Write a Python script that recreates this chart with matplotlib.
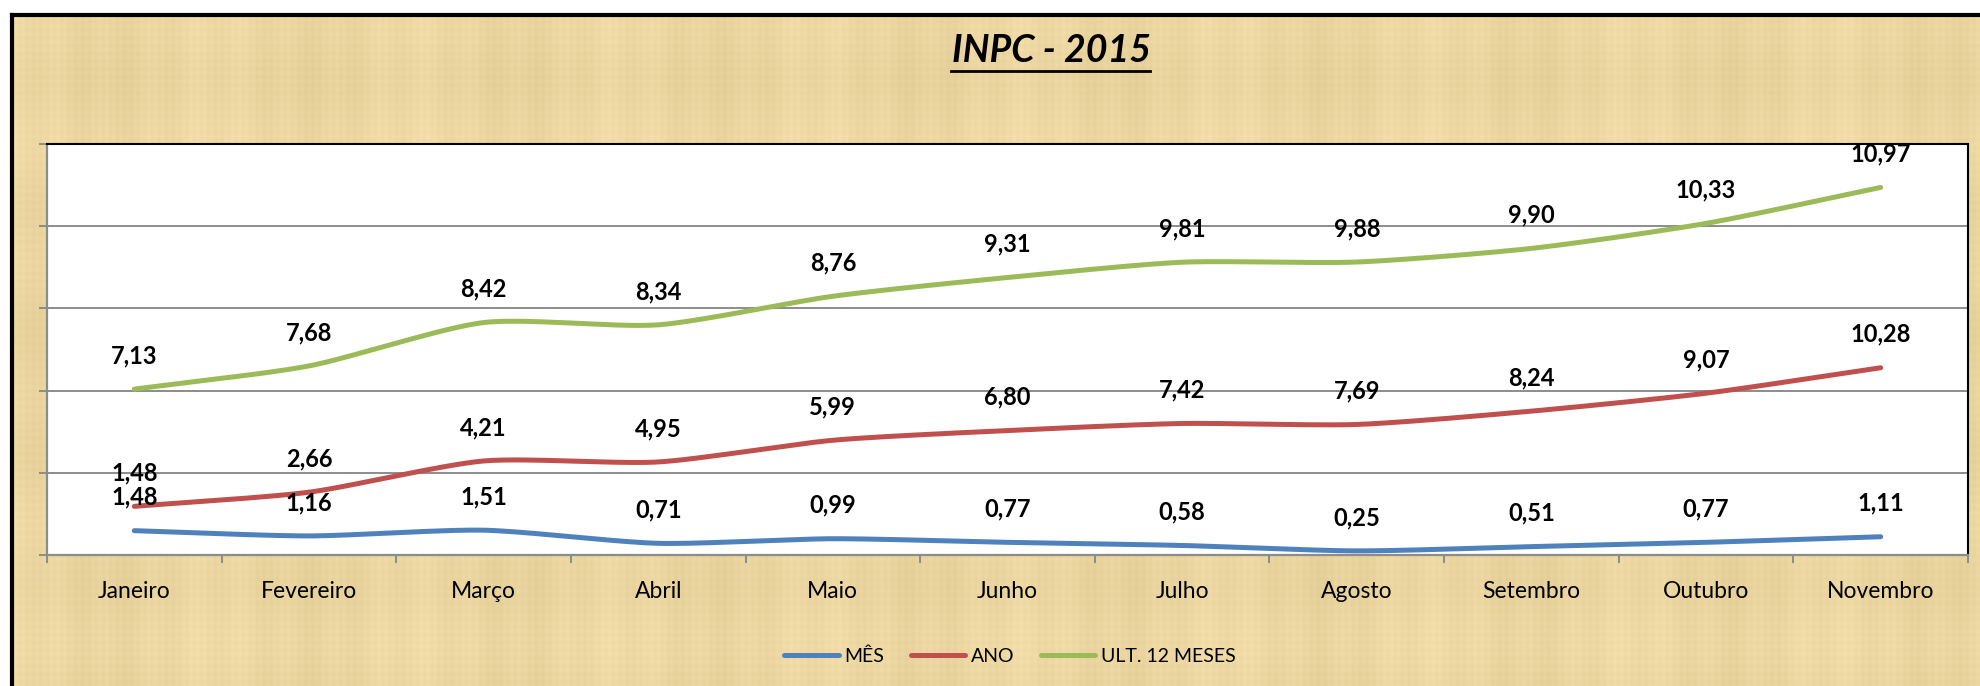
import matplotlib
matplotlib.use("Agg")
import matplotlib.pyplot as plt
import numpy as np
from matplotlib.lines import Line2D
from matplotlib.patches import Rectangle

plt.rcParams['font.family'] = ['Lato', 'DejaVu Sans']

#   Data
#===============================================
months = ["Janeiro", "Fevereiro", "Março", "Abril", "Maio", "Junho",
          "Julho", "Agosto", "Setembro", "Outubro", "Novembro"]
mes = [1.48, 1.16, 1.51, 0.71, 0.99, 0.77, 0.58, 0.25, 0.51, 0.77, 1.11]
ano = [1.48, 2.66, 4.21, 4.95, 5.99, 6.80, 7.42, 7.69, 8.24, 9.07, 10.28]
ult12 = [7.13, 7.68, 8.42, 8.34, 8.76, 9.31, 9.81, 9.88, 9.90, 10.33, 10.97]
series_names = ["MÊS", "ANO", "ULT. 12 MESES"]
colors = ["#4F81BD", "#C0504D", "#9BBB59"]


def smooth(x, y, n=30, k=0.7):
    # cardinal spline through the points, like excel's smoothed line
    x = np.asarray(x, float)
    y = np.asarray(y, float)
    px = np.concatenate([[2*x[0]-x[1]], x, [2*x[-1]-x[-2]]])
    py = np.concatenate([[2*y[0]-y[1]], y, [2*y[-1]-y[-2]]])
    xs, ys = [], []
    t = np.linspace(0, 1, n)
    h00 = 2*t**3 - 3*t**2 + 1
    h10 = t**3 - 2*t**2 + t
    h01 = -2*t**3 + 3*t**2
    h11 = t**3 - t**2
    for i in range(1, len(px)-2):
        for P, out in ((px, xs), (py, ys)):
            m1 = k*0.5*(P[i+1]-P[i-1])
            m2 = k*0.5*(P[i+2]-P[i])
            out.extend(h00*P[i] + h10*m1 + h01*P[i+1] + h11*m2)
    return np.array(xs), np.array(ys)


W, H = 1981, 686
fig = plt.figure(figsize=(W/100, H/100), dpi=100)
fig.patch.set_facecolor("white")

#   Parchment background
#===============================================
bg = fig.add_axes([0, 0, 1, 1], zorder=0)
yy, xx = np.mgrid[0:H, 0:W]
tex = (np.sin(xx*0.9)*0.25 + np.sin(xx*0.137)*0.35 + np.sin(xx*0.031+1.3)*0.4
       + np.sin(yy*0.8)*0.2 + np.sin(yy*0.05+0.7)*0.35 + np.sin(yy*0.013)*0.3)
base = np.array([234, 213, 160]) / 255.0
img = np.clip(base[None, None, :] + tex[..., None]*np.array([0.025, 0.025, 0.03]), 0, 1)
bg.imshow(img, extent=[0, 1, 0, 1], aspect="auto")
bg.set_xlim(0, 1)
bg.set_ylim(0, 1)
bg.add_patch(Rectangle((0, 1-15/H), 1, 15/H, color="white", zorder=2))
bg.add_patch(Rectangle((0, 0), 12/W, 1, color="white", zorder=2))
bg.plot([12/W, 12/W], [0, 1-15/H], color="black", lw=3, zorder=3, solid_capstyle="projecting")
bg.plot([12/W, 1], [1-15/H, 1-15/H], color="black", lw=3, zorder=3, solid_capstyle="projecting")
bg.axis("off")

#   Main chart (stacked lines)
#===============================================
ax = fig.add_axes([47/W, 1-555/H, (1968-47)/W, (555-144)/H], zorder=1)
ax.set_facecolor("white")
x = np.arange(len(months))
stack = np.cumsum([mes, ano, ult12], axis=0)
raw = [mes, ano, ult12]

for k in range(3):
    sx, sy = smooth(x, stack[k])
    ax.plot(sx, sy, color=colors[k], lw=3.6, solid_capstyle="round", label=series_names[k], zorder=3)
    for i in range(len(x)):
        ax.annotate(f"{raw[k][i]:.2f}".replace(".", ","), (x[i], stack[k][i]),
                    xytext=(0, 24), textcoords="offset points", ha="center", va="center",
                    fontsize=17, fontweight="bold", color="black", zorder=4)

ax.set_xlim(-0.5, len(months)-0.5)
ax.set_ylim(0, 25)
ax.set_yticks([0, 5, 10, 15, 20, 25])
ax.set_yticklabels([])
ax.yaxis.grid(True, color="#8C8C8C", lw=1.4, zorder=1)
ax.set_axisbelow(True)
ax.set_xticks(np.arange(-0.5, len(months), 1))
ax.set_xticklabels([])
ax.set_xticks(x, minor=True)
ax.set_xticklabels(months, minor=True, fontsize=16.5)
ax.tick_params(axis="x", which="minor", length=0, pad=19)
ax.tick_params(axis="x", which="major", length=6, width=1.4, color="#8C8C8C")
ax.tick_params(axis="y", length=6, width=1.4, color="#8C8C8C")
for s in ["top", "right"]:
    ax.spines[s].set_color("black")
    ax.spines[s].set_linewidth(1.5)
for s in ["left", "bottom"]:
    ax.spines[s].set_color("#8C8C8C")
    ax.spines[s].set_linewidth(1.6)

#   Title and legend
#===============================================
title = fig.text(1051/W, 1-50/H, "INPC - 2015", ha="center", va="center",
                 fontsize=27, fontweight="bold", fontstyle="italic", zorder=5)
fig.canvas.draw()
bb = title.get_window_extent()
fig.add_artist(Line2D([bb.x0/W, bb.x1/W], [(bb.y0-3)/H, (bb.y0-3)/H],
                      color="black", lw=2, zorder=5))

handles = [Line2D([], [], color=c, lw=3.6, solid_capstyle="round") for c in colors]
fig.legend(handles, series_names, loc="center", bbox_to_anchor=(1010/W, 1-656/H),
           ncol=3, frameon=False, fontsize=14, handlelength=2.8, handletextpad=0.3,
           columnspacing=1.35)

fig.savefig("out.png", dpi=100, facecolor=fig.get_facecolor())
